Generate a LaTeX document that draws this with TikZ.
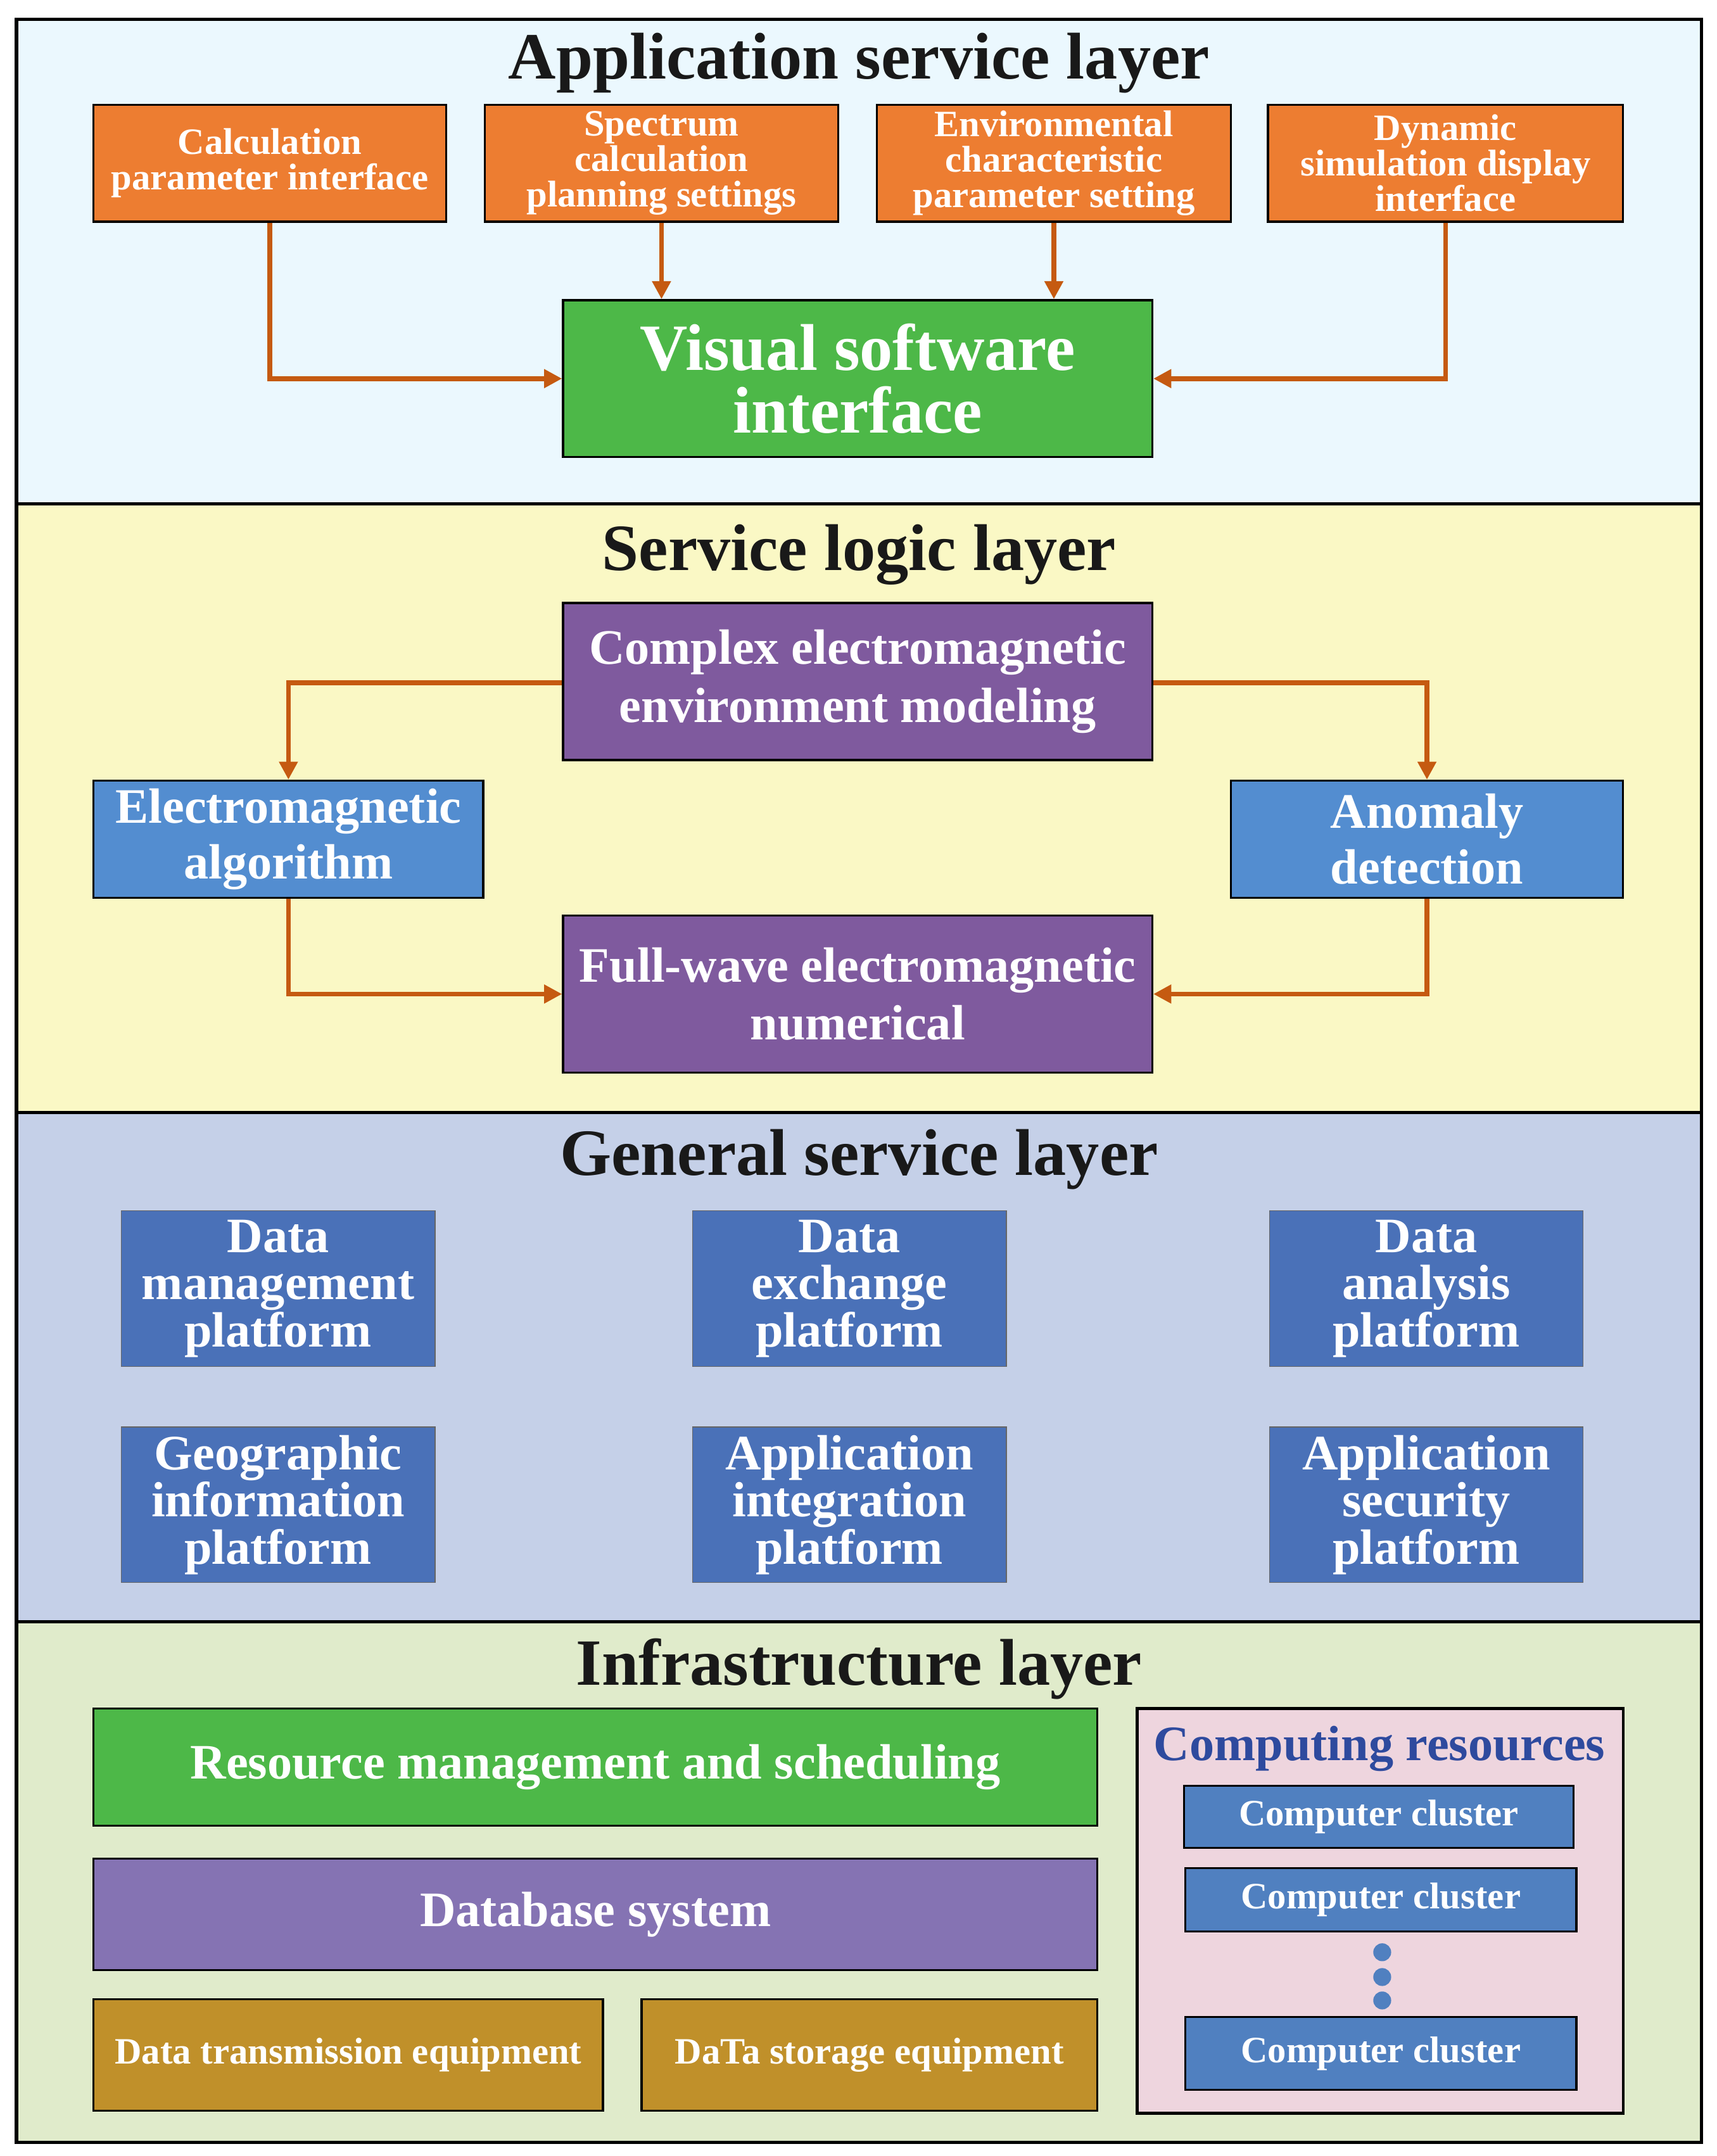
\documentclass[tikz,border=0pt]{standalone}
\usepackage{fontspec}
\setmainfont{Liberation Serif}
\usetikzlibrary{arrows.meta}
\definecolor{arr}{HTML}{C55A11}
\definecolor{org}{HTML}{ED7D31}
\definecolor{grn}{HTML}{4DB848}
\definecolor{pur}{HTML}{7F5A9E}
\definecolor{lblu}{HTML}{538DD0}
\definecolor{gblu}{HTML}{4A71B8}
\definecolor{dpur}{HTML}{8573B3}
\definecolor{gold}{HTML}{C0902A}
\definecolor{clu}{HTML}{5080C0}
\definecolor{tblu}{HTML}{2E4A9E}
\tikzset{
 fs/.style={font=\fontsize{#1pt}{\dimexpr #1pt*95/100\relax}\selectfont\bfseries},
 layer/.style={draw=black,line width=2.5pt},
 box/.style={draw=black,line width=1.5pt,text=white,align=center,inner sep=0pt},
 gbox/.style={draw=black!60,line width=0.6pt,fill=gblu,text=white,align=center,inner sep=0pt,fs=36},
 con/.style={draw=arr,line width=3.5pt,-{Triangle[length=13pt,width=13pt]}},
 title/.style={fs=48,text=black!90}
}
\newcommand{\bx}[6]{\node[box,fill=#5,minimum width=#3-#1,minimum height=#4-#2,#6] at ({(#1+#3)/2},{(#2+#4)/2})}
\begin{document}
\begin{tikzpicture}[x=1pt,y=-1pt]
\useasboundingbox (0,0) rectangle (1247,1566);
\fill[white] (0,0) rectangle (1247,1566);
\draw[layer,fill=cyan!8!white] (12,14) rectangle (1236,366);
\draw[layer,fill={rgb,255:red,250;green,248;blue,197}] (12,366) rectangle (1236,808);
\draw[layer,fill={rgb,255:red,197;green,208;blue,232}] (12,808) rectangle (1236,1178);
\draw[layer,fill={rgb,255:red,224;green,235;blue,203}] (12,1178) rectangle (1236,1556);
\node[title] (t1) at (624,46) {Application service layer};
\node[title] (t2) at (624,403) {Service logic layer};
\node[title] (t3) at (624,842) {General service layer};
\node[title] (t4) at (624,1212) {Infrastructure layer};
% application
\bx{68}{76}{324}{161}{org}{fs=27} (o1) {Calculation\\parameter interface};
\bx{352}{76}{609}{161}{org}{fs=27} (o2) {Spectrum\\calculation\\planning settings};
\bx{637}{76}{894}{161}{org}{fs=27} (o3) {Environmental\\characteristic\\parameter setting};
\bx{921}{76}{1179}{161}{org}{fs=27} (o4) {Dynamic\\simulation display\\interface};
\bx{409}{218}{837}{332}{grn}{fs=48} (vs) {Visual software\\interface};
\draw[con] (o1.south) |- (vs.west);
\draw[con] (o2.south) -- (o2.south|-vs.north);
\draw[con] (o3.south) -- (o3.south|-vs.north);
\draw[con] (o4.south) |- (vs.east);
% logic
\bx{409}{438}{837}{552}{pur}{fs=36} (cm) {Complex electromagnetic\\[8pt]environment modeling};
\bx{68}{567}{351}{652}{lblu}{fs=36} (ea) {Electromagnetic\\[6pt]algorithm};
\bx{894}{567}{1179}{652}{lblu}{fs=36} (ad) {Anomaly\\[6pt]detection};
\bx{409}{665}{837}{779}{pur}{fs=36} (fw) {Full-wave electromagnetic\\[8pt]numerical};
\draw[con] ([yshift=-1pt]cm.west) -| (ea.north);
\draw[con] ([yshift=-1pt]cm.east) -| (ad.north);
\draw[con] (ea.south) |- (fw.west);
\draw[con] (ad.south) |- (fw.east);
% general
\node[gbox,minimum width=228,minimum height=113] (g1) at (202,936) {Data\\management\\platform};
\node[gbox,minimum width=228,minimum height=113] (g2) at (617,936) {Data\\exchange\\platform};
\node[gbox,minimum width=228,minimum height=113] (g3) at (1036,936) {Data\\analysis\\platform};
\node[gbox,minimum width=228,minimum height=113] (g4) at (202,1093) {Geographic\\information\\platform};
\node[gbox,minimum width=228,minimum height=113] (g5) at (617,1093) {Application\\integration\\platform};
\node[gbox,minimum width=228,minimum height=113] (g6) at (1036,1093) {Application\\security\\platform};
% infra
\bx{68}{1241}{797}{1326}{grn}{fs=36} (rm) {Resource management and scheduling};
\bx{68}{1350}{797}{1431}{dpur}{fs=36} (db) {Database system};
\bx{68}{1452}{438}{1533}{gold}{fs=27} (dt) {Data transmission equipment};
\bx{466}{1452}{797}{1533}{gold}{fs=27} (ds) {DaTa storage equipment};
\draw[line width=2pt,fill={rgb,255:red,238;green,213;blue,222}] (826,1241) rectangle (1179,1535);
\node[fs=36,text=tblu] (cr) at (1002,1270) {Computing resources};
\bx{860}{1297}{1143}{1342}{clu}{fs=27} (c1) {Computer cluster};
\bx{861}{1357}{1145}{1403}{clu}{fs=27} (c2) {Computer cluster};
\bx{861}{1465}{1145}{1518}{clu}{fs=27} (c3) {Computer cluster};
\foreach \yy in {1418,1436,1453} \fill[clu] (1004,\yy) circle (6.5pt);
\end{tikzpicture}
\end{document}
